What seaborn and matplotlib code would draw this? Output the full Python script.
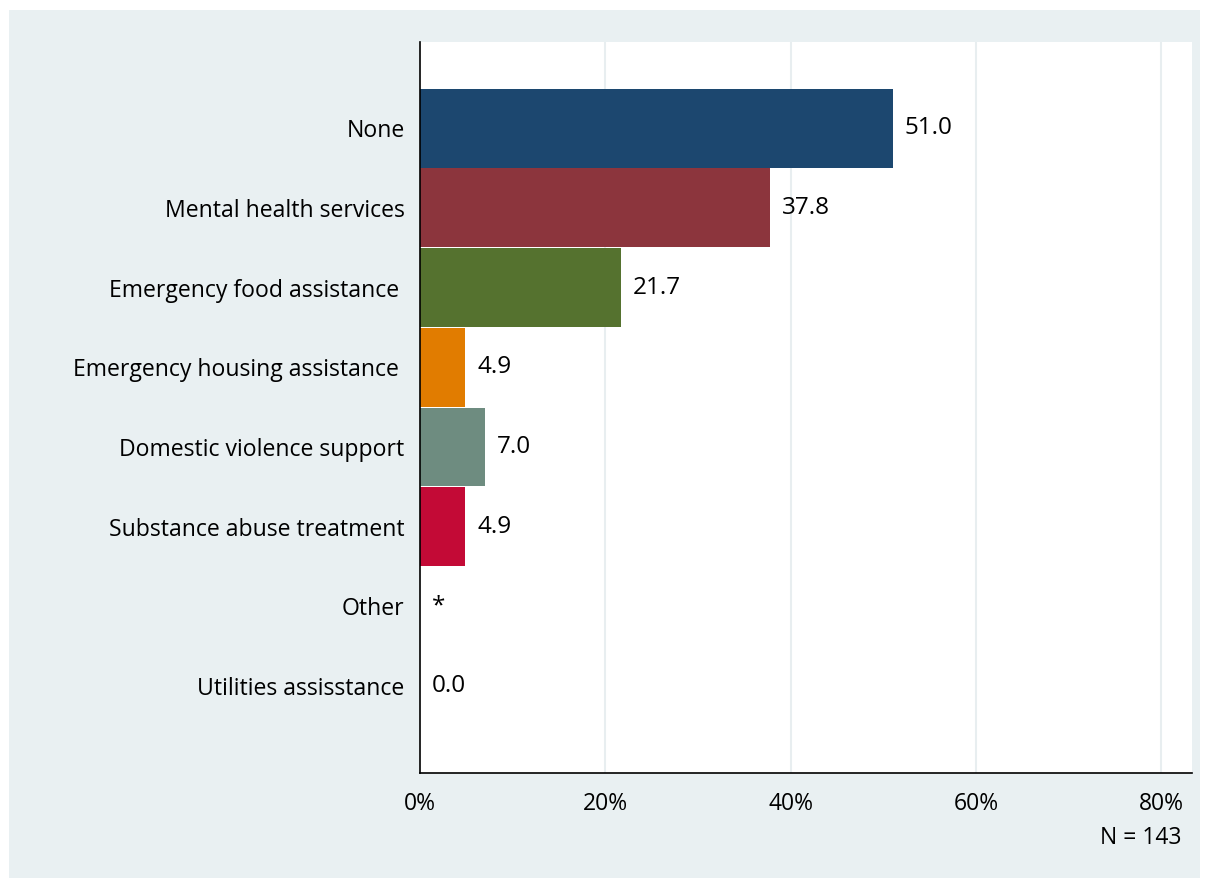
import matplotlib
matplotlib.use('Agg')
import matplotlib.pyplot as plt
import seaborn as sns
import pandas as pd
from matplotlib.patches import Rectangle

# ===== data =====
categories = ['None', 'Mental health services', 'Emergency food assistance ',
              'Emergency housing assistance ', 'Domestic violence support',
              'Substance abuse treatment', 'Other', 'Utilities assisstance']
values = [51.0, 37.8, 21.7, 4.9, 7.0, 4.9, 0.0, 0.0]
value_labels = ['51.0', '37.8', '21.7', '4.9', '7.0', '4.9', '*', '0.0']
colors = ['#1c476f', '#8c353d', '#55722f', '#e17c00', '#6e8c80', '#c30a36', '#999999', '#999999']
x_ticks = [0, 20, 40, 60, 80]
x_tick_labels = ['0%', '20%', '40%', '60%', '80%']
note = 'N = 143'

df = pd.DataFrame({'cat': categories, 'val': values})

sns.set_style('white')
plt.rcParams['font.family'] = ['Open Sans', 'DejaVu Sans']
plt.rcParams['text.color'] = 'black'
plt.rcParams['xtick.color'] = 'black'
plt.rcParams['ytick.color'] = 'black'

W, H = 1207, 886
fig = plt.figure(figsize=(W / 100, H / 100), dpi=100, facecolor='white')
bg = '#e9f0f2'
fig.patches.append(Rectangle((9 / W, 1 - 878 / H), (1200 - 9) / W, (878 - 10) / H,
                             transform=fig.transFigure, facecolor=bg, edgecolor='none', zorder=-10))

ax = fig.add_axes([420 / W, 1 - 773 / H, (1192 - 420) / W, (773 - 42) / H])
ax.set_zorder(5)
ax.set_facecolor('white')

sns.barplot(data=df, y='cat', x='val', hue='cat', palette=colors, legend=False,
            orient='h', width=0.99, saturation=1, linewidth=0, ax=ax, zorder=3)

ax.set_xlim(0, 83.3)
ax.set_ylim(len(categories) - 1 + 1.09, -1.08)

ax.set_xticks(x_ticks)
ax.set_xticklabels(x_tick_labels, fontsize=16.5)
ax.tick_params(axis='x', length=8, width=1.2, color='black', pad=6, labelcolor='black')
ax.tick_params(axis='y', length=0, pad=11, labelsize=16.6, labelcolor='black')
ax.set_xlabel('')
ax.set_ylabel('')

for gx in x_ticks[1:]:
    ax.axvline(gx, color='#e8eef0', linewidth=1.5, zorder=1)

for s in ['top', 'right']:
    ax.spines[s].set_visible(False)
for s in ['left', 'bottom']:
    ax.spines[s].set_color('black')
    ax.spines[s].set_linewidth(1.2)
    ax.spines[s].set_zorder(6)

for i, (v, lab) in enumerate(zip(values, value_labels)):
    ax.text(v + 1.3, i, lab, va='center', ha='left', fontsize=17.5, color='black', zorder=4)

fig.text(1182 / W, 1 - 838 / H, note, ha='right', va='center', fontsize=16.5, color='black')

fig.savefig('out.png', dpi=100, facecolor='white')
